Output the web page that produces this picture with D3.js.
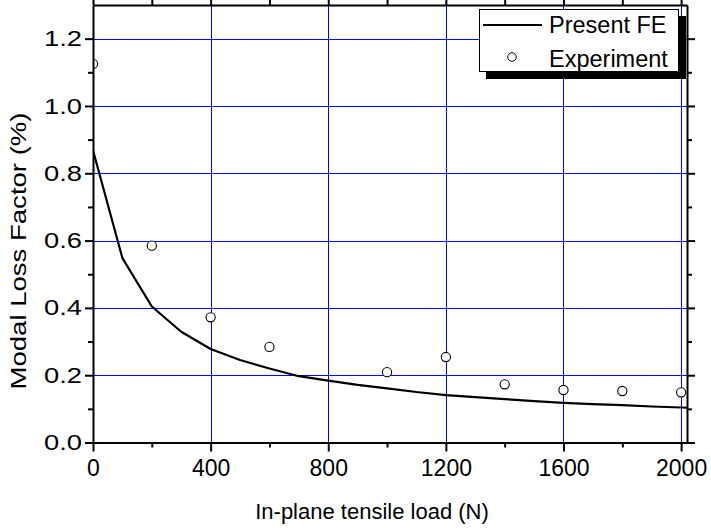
<!DOCTYPE html>
<html>
<head>
<meta charset="utf-8">
<script src="https://cdn.jsdelivr.net/npm/d3@7/dist/d3.min.js"></script>
<style>
  html, body { margin: 0; padding: 0; background: #fff; }
  svg { display: block; font-family: "Liberation Sans", Arial, Helvetica, sans-serif; }
</style>
</head>
<body>
<svg id="chart" width="711" height="531"></svg>
<script>
// In-plane tensile load (N) for the finite-element curve
const feLoad = [0, 100, 200, 300, 400, 500, 600, 700, 800, 900, 1000, 1100, 1200, 1300, 1400, 1500, 1600, 1700, 1800, 1900, 2000, 2100];
// Modal loss factor (%) predicted by the FE model
const feLoss = [0.868, 0.548, 0.404, 0.329, 0.278, 0.245, 0.220, 0.197, 0.184, 0.171, 0.161, 0.150, 0.141, 0.135, 0.129, 0.123, 0.118, 0.114, 0.111, 0.107, 0.104, 0.100];
// Measured points
const expLoad = [0, 200, 400, 600, 1000, 1200, 1400, 1600, 1800, 2000];
const expLoss = [1.125, 0.585, 0.372, 0.284, 0.209, 0.254, 0.173, 0.156, 0.153, 0.149];

const xMajor = [0, 400, 800, 1200, 1600, 2000];
const xMinor = [200, 600, 1000, 1400, 1800];
const yMajor = [0.0, 0.2, 0.4, 0.6, 0.8, 1.0, 1.2];
const yMinor = [0.1, 0.3, 0.5, 0.7, 0.9, 1.1];

const seriesNames = ["Present FE", "Experiment"];
const xTitle = "In-plane tensile load (N)";
const yTitle = "Modal Loss Factor (%)";

const svg = d3.select("#chart");
const L = 93, R = 687, T = 5, B = 442.5;

const x = d3.scaleLinear().domain([0, 2020]).range([L, R]);
const y = d3.scaleLinear().domain([0, 1.3]).range([B, T]);

// clip region for the plotted data
svg.append("defs").append("clipPath").attr("id", "plotClip")
  .append("rect").attr("x", L).attr("y", T).attr("width", R - L).attr("height", B - T);

// blue grid at major ticks
const grid = svg.append("g").attr("stroke", "#0000ff").attr("stroke-width", 1);
grid.selectAll("line.gx").data(xMajor.filter(v => v > 0)).join("line")
  .attr("x1", d => Math.round(x(d)) + 0.5).attr("x2", d => Math.round(x(d)) + 0.5)
  .attr("y1", T).attr("y2", B);
grid.selectAll("line.gy").data(yMajor.filter(v => v > 0)).join("line")
  .attr("y1", d => Math.round(y(d)) + 0.5).attr("y2", d => Math.round(y(d)) + 0.5)
  .attr("x1", L).attr("x2", R);

const plot = svg.append("g").attr("clip-path", "url(#plotClip)");

// FE curve
plot.append("path")
  .datum(feLoad.map((v, i) => [v, feLoss[i]]))
  .attr("fill", "none").attr("stroke", "#000").attr("stroke-width", 2.2)
  .attr("stroke-linejoin", "round")
  .attr("d", d3.line().x(d => x(d[0])).y(d => y(d[1])));

// experimental points
plot.selectAll("circle.exp").data(expLoad.map((v, i) => [v, expLoss[i]])).join("circle")
  .attr("cx", d => x(d[0])).attr("cy", d => y(d[1])).attr("r", 4.6)
  .attr("fill", "#fff").attr("stroke", "#000").attr("stroke-width", 1.1);

// axes
function styleAxis(g) {
  g.select(".domain").attr("stroke", "#000").attr("stroke-width", 2);
  g.selectAll(".tick line").attr("stroke", "#000").attr("stroke-width", 2);
}

const axB = svg.append("g").attr("transform", `translate(0,${B})`)
  .call(d3.axisBottom(x).tickValues(xMajor).tickFormat(d3.format("d")).tickSize(9).tickPadding(8).tickSizeOuter(0));
axB.call(styleAxis);
axB.selectAll("text").attr("font-size", 23).attr("fill", "#000").attr("font-family", "Liberation Sans, Arial, sans-serif");
svg.append("g").attr("transform", `translate(0,${B})`)
  .call(d3.axisBottom(x).tickValues(xMinor).tickFormat("").tickSize(5).tickSizeOuter(0))
  .call(styleAxis).select(".domain").remove();

const axL = svg.append("g").attr("transform", `translate(${L},0)`)
  .call(d3.axisLeft(y).tickValues(yMajor).tickFormat(d3.format(".1f")).tickSize(8).tickPadding(3).tickSizeOuter(0));
axL.call(styleAxis);
axL.selectAll("text").attr("font-size", 22).attr("fill", "#000")
  .attr("font-family", "Liberation Sans, Arial, sans-serif")
  .attr("textLength", 38).attr("lengthAdjust", "spacingAndGlyphs");
svg.append("g").attr("transform", `translate(${L},0)`)
  .call(d3.axisLeft(y).tickValues(yMinor).tickFormat("").tickSize(5).tickSizeOuter(0))
  .call(styleAxis).select(".domain").remove();

// top and right frame with mirrored ticks
const axT = svg.append("g").attr("transform", `translate(0,${T})`)
  .call(d3.axisTop(x).tickValues(xMajor).tickFormat("").tickSize(8).tickSizeOuter(0));
axT.call(styleAxis);
svg.append("g").attr("transform", `translate(0,${T})`)
  .call(d3.axisTop(x).tickValues(xMinor).tickFormat("").tickSize(5).tickSizeOuter(0))
  .call(styleAxis).select(".domain").remove();
const axR = svg.append("g").attr("transform", `translate(${R},0)`)
  .call(d3.axisRight(y).tickValues(yMajor).tickFormat("").tickSize(8).tickSizeOuter(0));
axR.call(styleAxis);
svg.append("g").attr("transform", `translate(${R},0)`)
  .call(d3.axisRight(y).tickValues(yMinor).tickFormat("").tickSize(5).tickSizeOuter(0))
  .call(styleAxis).select(".domain").remove();

// axis titles
svg.append("text").attr("x", 372).attr("y", 519).attr("text-anchor", "middle")
  .attr("font-size", 22).attr("fill", "#000").text(xTitle);
svg.append("text").attr("transform", "translate(26,251) rotate(-90)")
  .attr("text-anchor", "middle").attr("font-size", 22).attr("fill", "#000")
  .attr("textLength", 277).attr("lengthAdjust", "spacingAndGlyphs").text(yTitle);

// legend with drop shadow
const lg = svg.append("g");
lg.append("rect").attr("x", 486).attr("y", 16).attr("width", 200).attr("height", 63).attr("fill", "#000");
lg.append("rect").attr("x", 479.5).attr("y", 9.5).attr("width", 199).attr("height", 62)
  .attr("fill", "#fff").attr("stroke", "#000").attr("stroke-width", 1);
lg.append("line").attr("x1", 483).attr("x2", 542).attr("y1", 25).attr("y2", 25)
  .attr("stroke", "#000").attr("stroke-width", 2);
lg.append("circle").attr("cx", 512).attr("cy", 57).attr("r", 4.3)
  .attr("fill", "#fff").attr("stroke", "#000").attr("stroke-width", 1);
lg.selectAll("text.lt").data(seriesNames).join("text")
  .attr("x", 549).attr("y", (d, i) => 33 + i * 33.5)
  .attr("font-size", 23.5).attr("fill", "#000").text(d => d);
</script>
</body>
</html>
